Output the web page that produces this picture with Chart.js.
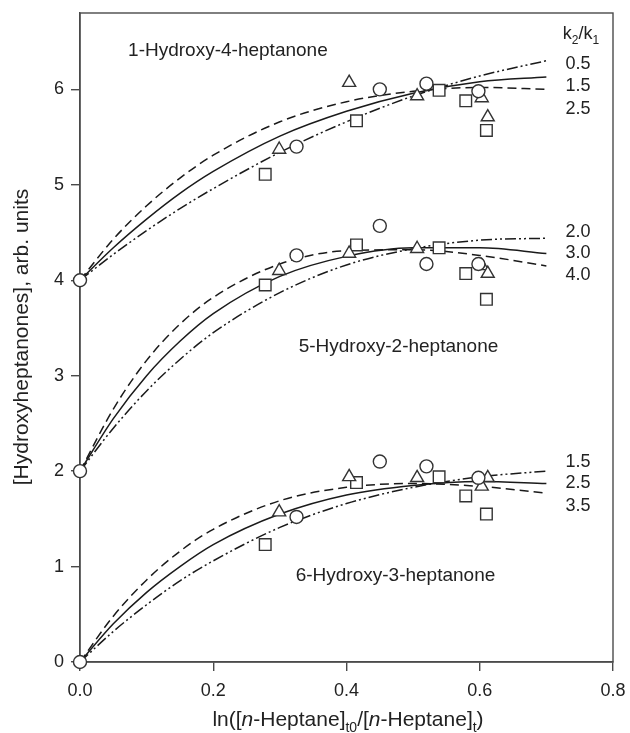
<!DOCTYPE html>
<html>
<head>
<meta charset="utf-8">
<script src="https://cdn.jsdelivr.net/npm/chart.js@4.4.1/dist/chart.umd.min.js"></script>
<style>
body{margin:0;background:#fff;}
#wrap{width:630px;height:733px;position:relative;}
</style>
</head>
<body>
<div id="wrap"><canvas id="chart"></canvas></div>
<script>
// model curves, x = ln([n-Heptane]t0/[n-Heptane]t)
var curveX = [0, 0.05, 0.1, 0.15, 0.2, 0.3, 0.4, 0.5, 0.6, 0.7];

// 1-Hydroxy-4-heptanone (offset +4), k2/k1 = 0.5 / 1.5 / 2.5
var top05 = [4.00, 4.27, 4.52, 4.75, 4.96, 5.34, 5.66, 5.93, 6.14, 6.30];
var top15 = [4.00, 4.34, 4.64, 4.91, 5.14, 5.51, 5.77, 5.96, 6.08, 6.13];
var top25 = [4.00, 4.43, 4.78, 5.07, 5.31, 5.66, 5.87, 5.98, 6.02, 6.00];
// 5-Hydroxy-2-heptanone (offset +2), k2/k1 = 2.0 / 3.0 / 4.0
var mid20 = [2.00, 2.45, 2.84, 3.17, 3.45, 3.87, 4.16, 4.33, 4.42, 4.44];
var mid30 = [2.00, 2.55, 3.00, 3.36, 3.65, 4.04, 4.25, 4.34, 4.34, 4.28];
var mid40 = [2.00, 2.65, 3.16, 3.54, 3.82, 4.17, 4.31, 4.32, 4.26, 4.15];
// 6-Hydroxy-3-heptanone, k2/k1 = 1.5 / 2.5 / 3.5
var bot15 = [0, 0.32, 0.60, 0.85, 1.06, 1.41, 1.66, 1.83, 1.94, 2.00];
var bot25 = [0, 0.40, 0.73, 1.00, 1.23, 1.55, 1.75, 1.85, 1.89, 1.87];
var bot35 = [0, 0.48, 0.86, 1.16, 1.39, 1.69, 1.83, 1.87, 1.84, 1.77];

// measured points (one x per experiment, marker per experiment set)
var circleX   = [0.325, 0.450, 0.520, 0.598];
var triangleX = [0.299, 0.404, 0.506, 0.603, 0.612];
var squareX   = [0.278, 0.415, 0.539, 0.579, 0.610];

var topCircle   = [5.40, 6.00, 6.06, 5.98];
var topTriangle = [5.37, 6.07, 5.93, 5.91, 5.71];
var topSquare   = [5.11, 5.67, 5.99, 5.88, 5.57];

var midCircle   = [4.26, 4.57, 4.17, 4.17];
var midTriangle = [4.10, 4.28, 4.33, 4.15, 4.07];
var midSquare   = [3.95, 4.37, 4.34, 4.07, 3.80];

var botCircle   = [1.52, 2.10, 2.05, 1.93];
var botTriangle = [1.57, 1.94, 1.93, 1.84, 1.93];
var botSquare   = [1.23, 1.88, 1.94, 1.74, 1.55];

// initial points at x = 0
var startX = [0, 0, 0];
var startY = [4, 2, 0];

var FONT = '"Liberation Sans", Arial, Helvetica, sans-serif';
Chart.defaults.font.family = FONT;
Chart.defaults.color = '#222';

function pts(xs, ys){
  return xs.map(function(x, i){ return {x: x, y: ys[i]}; });
}

var DASH = [9, 5];
var DASHDOT = [11, 3, 2, 3, 2, 3];

function curve(ys, dash){
  return {
    data: pts(curveX, ys),
    showLine: true,
    pointRadius: 0,
    borderColor: '#1a1a1a',
    borderWidth: 1.5,
    borderDash: dash,
    cubicInterpolationMode: 'monotone',
    order: 2
  };
}

function marks(data, style, r){
  return {
    data: data,
    pointStyle: style,
    pointRadius: r,
    pointBackgroundColor: '#fff',
    pointBorderColor: '#333',
    pointBorderWidth: 1.4,
    showLine: false,
    clip: false,
    order: 0
  };
}

var circles = pts(circleX, topCircle).concat(pts(circleX, midCircle), pts(circleX, botCircle), pts(startX, startY));
var triangles = pts(triangleX, topTriangle).concat(pts(triangleX, midTriangle), pts(triangleX, botTriangle));
var squares = pts(squareX, topSquare).concat(pts(squareX, midSquare), pts(squareX, botSquare));

function font(style, size){
  if (style === 'i') return 'italic ' + size + 'px ' + FONT;
  if (style === 'sub') return Math.round(size * 0.65) + 'px ' + FONT;
  return size + 'px ' + FONT;
}

function drawRuns(ctx, runs, x, y, size){
  var w = 0;
  runs.forEach(function(r){ ctx.font = font(r[1], size); w += ctx.measureText(r[0]).width; });
  var cx = x - w / 2;
  ctx.textAlign = 'left';
  ctx.textBaseline = 'alphabetic';
  runs.forEach(function(r){
    ctx.font = font(r[1], size);
    ctx.fillText(r[0], cx, r[1] === 'sub' ? y + size * 0.3 : y);
    cx += ctx.measureText(r[0]).width;
  });
}

var framePlugin = {
  id: 'frame',
  beforeDatasetsDraw: function(chart){
    var a = chart.chartArea, ctx = chart.ctx;
    ctx.save();
    ctx.strokeStyle = '#4a4a4a';
    ctx.lineWidth = 1.4;
    ctx.strokeRect(a.left, a.top, a.right - a.left, a.bottom - a.top);
    ctx.restore();
  }
};

var textPlugin = {
  id: 'texts',
  afterDraw: function(chart){
    var ctx = chart.ctx, xs = chart.scales.x, ys = chart.scales.y;
    function px(v){ return xs.getPixelForValue(v); }
    function py(v){ return ys.getPixelForValue(v); }
    ctx.save();
    ctx.fillStyle = '#222';

    // compound names
    ctx.textAlign = 'center';
    ctx.textBaseline = 'middle';
    ctx.font = '19px ' + FONT;
    ctx.fillText('1-Hydroxy-4-heptanone', px(0.222), py(6.40));
    ctx.fillText('5-Hydroxy-2-heptanone', px(0.478), py(3.30));
    ctx.fillText('6-Hydroxy-3-heptanone', px(0.4735), py(0.90));

    // k2/k1 values beside curve ends
    ctx.font = '18px ' + FONT;
    var kx = px(0.7475);
    [['0.5', 6.27], ['1.5', 6.03], ['2.5', 5.79],
     ['2.0', 4.51], ['3.0', 4.28], ['4.0', 4.05],
     ['1.5', 2.10], ['2.5', 1.87], ['3.5', 1.63]].forEach(function(l){
      ctx.fillText(l[0], kx, py(l[1]));
    });
    drawRuns(ctx, [['k', ''], ['2', 'sub'], ['/k', ''], ['1', 'sub']], px(0.752), py(6.59) + 6, 18);

    // x axis title
    drawRuns(ctx, [['ln([', ''], ['n', 'i'], ['-Heptane]', ''], ['t0', 'sub'], ['/[', ''],
                   ['n', 'i'], ['-Heptane]', ''], ['t', 'sub'], [')', '']], 348, 726, 21);

    // y axis title
    ctx.translate(22, 337);
    ctx.rotate(-Math.PI / 2);
    ctx.textAlign = 'center';
    ctx.textBaseline = 'middle';
    ctx.font = '21px ' + FONT;
    ctx.fillText('[Hydroxyheptanones], arb. units', 0, 0);
    ctx.restore();
  }
};

var axisGrid = {drawOnChartArea: false, drawTicks: true, tickLength: 9, color: '#4a4a4a', lineWidth: 1.4};
var axisBorder = {display: true, color: '#4a4a4a', width: 1.4};

new Chart(document.getElementById('chart'), {
  type: 'scatter',
  data: {
    datasets: [
      marks(circles, 'circle', 6.5),
      marks(triangles, 'triangle', 7.5),
      marks(squares, 'rect', 8.2),
      curve(top05, DASHDOT), curve(top15, []), curve(top25, DASH),
      curve(mid20, DASHDOT), curve(mid30, []), curve(mid40, DASH),
      curve(bot15, DASHDOT), curve(bot25, []), curve(bot35, DASH)
    ]
  },
  options: {
    responsive: true,
    maintainAspectRatio: false,
    animation: false,
    layout: {padding: {top: 13, right: 17, left: 0, bottom: 0}},
    plugins: {legend: {display: false}, tooltip: {enabled: false}},
    scales: {
      x: {
        type: 'linear', min: 0, max: 0.8,
        ticks: {stepSize: 0.2, padding: 9, font: {size: 18}, color: '#222',
                callback: function(v){ return v.toFixed(1); }},
        grid: axisGrid, border: axisBorder,
        afterFit: function(s){ s.height = 71; s.paddingLeft = 0; s.paddingRight = 0; }
      },
      y: {
        min: 0, max: 6.8,
        ticks: {stepSize: 1, includeBounds: false, padding: 7, font: {size: 18}, color: '#222'},
        grid: axisGrid, border: axisBorder,
        afterFit: function(s){ s.width = 80; s.paddingTop = 0; s.paddingBottom = 0; }
      }
    }
  },
  plugins: [framePlugin, textPlugin]
});
</script>
</body>
</html>
